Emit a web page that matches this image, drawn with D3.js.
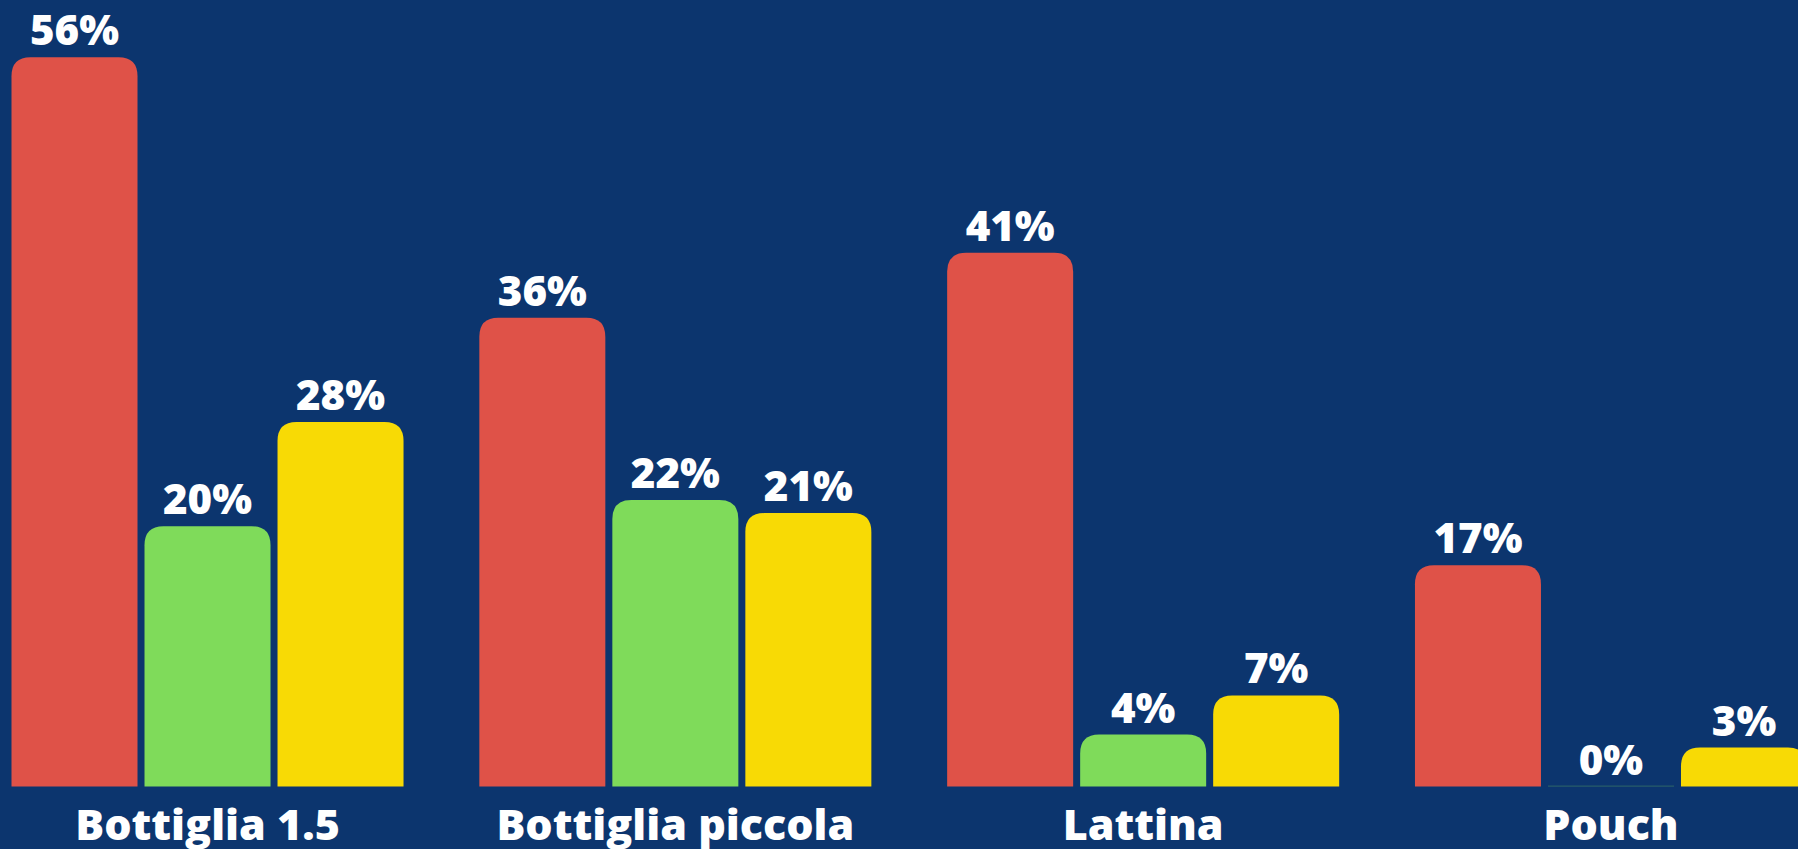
<!DOCTYPE html>
<html>
<head>
<meta charset="utf-8">
<title>Confezioni</title>
<script src="https://cdn.jsdelivr.net/npm/d3@7"></script>
<style>
body { margin:0; background:#0c356e; overflow:hidden; }
svg text { font-family:"Open Sans", sans-serif; font-weight:800; fill:#fff; }
</style>
</head>
<body>
<svg id="chart" width="1798" height="849"></svg>
<script>
var categories = ["Bottiglia 1.5", "Bottiglia piccola", "Lattina", "Pouch"];
var seriesNames = ["rosso", "verde", "giallo"];
var redValues = [56, 36, 41, 17];
var greenValues = [20, 22, 4, 0];
var yellowValues = [28, 21, 7, 3];
var colors = ["#df5248", "#7fdb5a", "#f8da05"];

var series = [redValues, greenValues, yellowValues];

var svg = d3.select("#chart");

var x0 = d3.scaleBand().domain(categories).range([11.5, 1807]).paddingInner(0.162).paddingOuter(0);
var x1 = d3.scaleBand().domain(seriesNames).range([0, x0.bandwidth()]).paddingInner(0.0526);
var y = d3.scaleLinear().domain([0, 56]).range([786.6, 57.3]);
var color = d3.scaleOrdinal().domain(seriesNames).range(colors);

// bar with rounded top corners only
function topRounded(x, yTop, w, yBase, r){
	var h = yBase - yTop;
	r = Math.min(r, h, w/2);
	return "M" + x + "," + yBase +
		"V" + (yTop + r) +
		"Q" + x + "," + yTop + " " + (x + r) + "," + yTop +
		"H" + (x + w - r) +
		"Q" + (x + w) + "," + yTop + " " + (x + w) + "," + (yTop + r) +
		"V" + yBase + "Z";
}

var rows = [];
categories.forEach(function(c, i){
	seriesNames.forEach(function(s, j){
		rows.push({cat:c, ser:s, val:series[j][i]});
	});
});

var g = svg.append("g");

g.selectAll("path.bar").data(rows.filter(function(d){ return d.val > 0; }))
	.enter().append("path")
	.attr("class", "bar")
	.attr("fill", function(d){ return color(d.ser); })
	.attr("d", function(d){
		return topRounded(x0(d.cat) + x1(d.ser), y(d.val), x1.bandwidth(), y(0), 19);
	});

// zero values: just a faint line on the baseline
g.selectAll("rect.zero").data(rows.filter(function(d){ return d.val === 0; }))
	.enter().append("rect")
	.attr("class", "zero")
	.attr("x", function(d){ return x0(d.cat) + x1(d.ser); })
	.attr("y", y(0) - 1)
	.attr("width", x1.bandwidth())
	.attr("height", 1)
	.attr("fill", function(d){ return color(d.ser); })
	.attr("opacity", 0.3);

g.selectAll("text.val").data(rows)
	.enter().append("text")
	.attr("class", "val")
	.attr("x", function(d){ return x0(d.cat) + x1(d.ser) + x1.bandwidth()/2; })
	.attr("y", function(d){ return y(d.val) - 12; })
	.attr("text-anchor", "middle")
	.style("font-size", "42px")
	.text(function(d){ return d.val + "%"; });

g.selectAll("text.cat").data(categories)
	.enter().append("text")
	.attr("class", "cat")
	.attr("x", function(d){ return x0(d) + x0.bandwidth()/2; })
	.attr("y", 840)
	.attr("text-anchor", "middle")
	.style("font-size", "43px")
	.text(function(d){ return d; });
</script>
</body>
</html>
